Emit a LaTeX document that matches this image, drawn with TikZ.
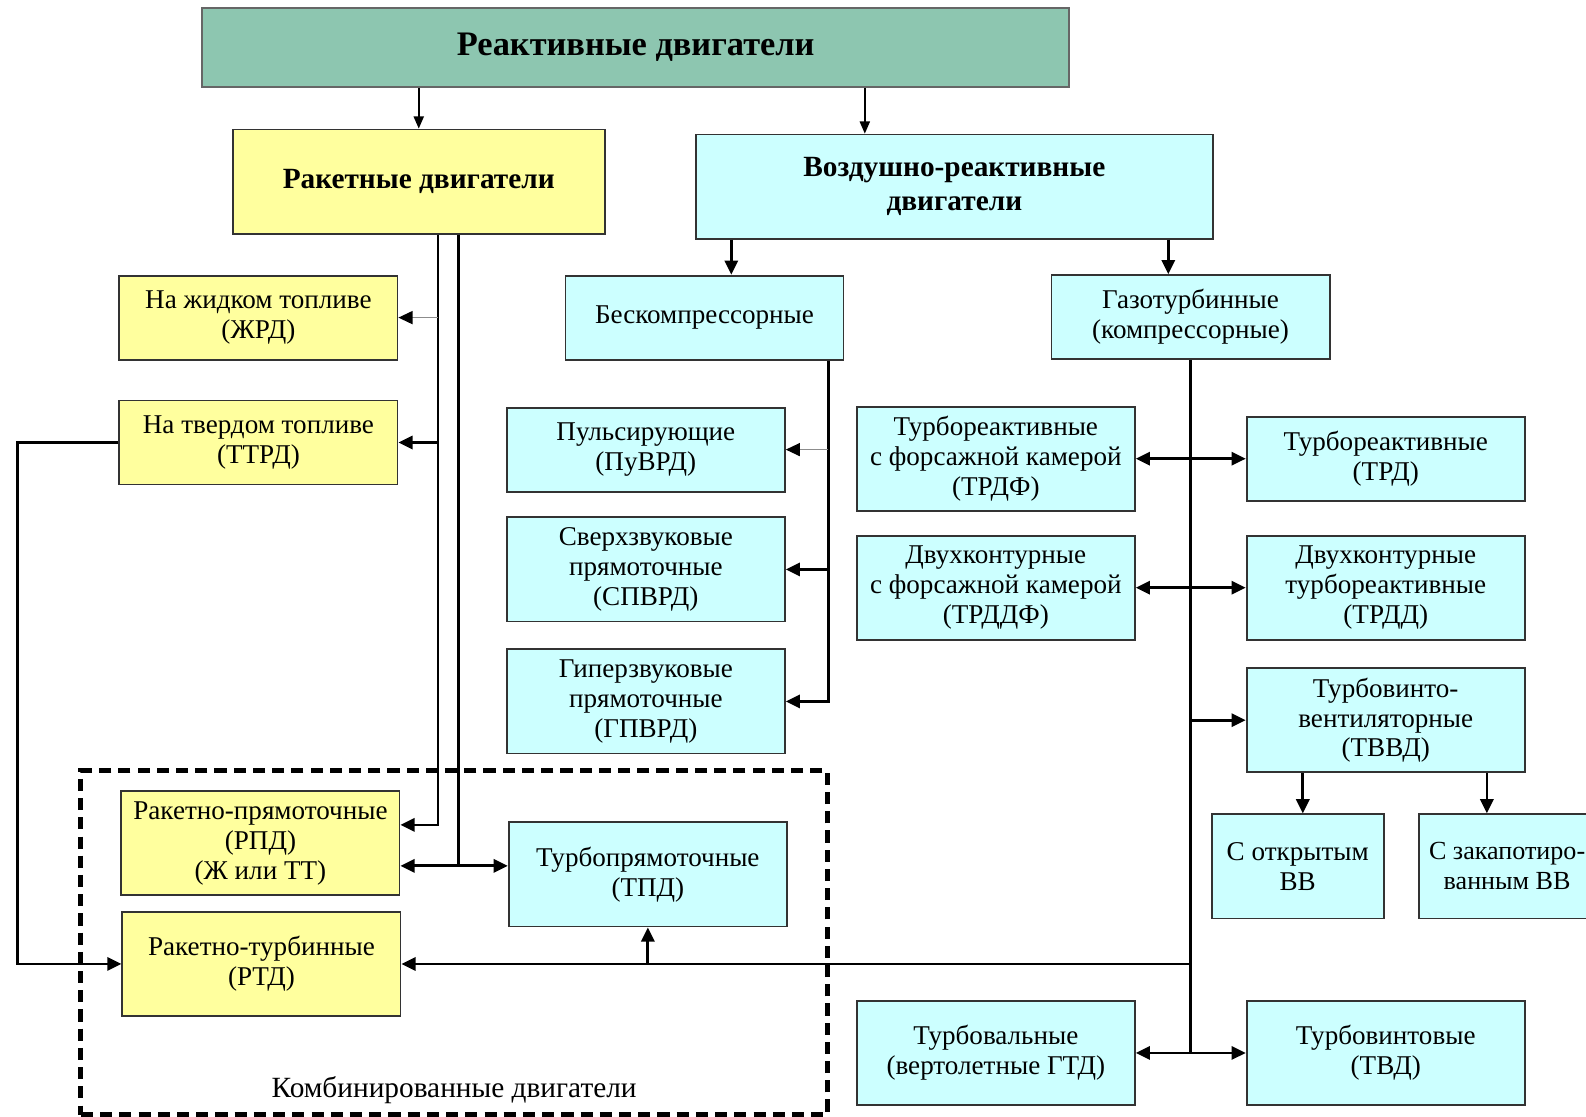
\documentclass[tikz,border=0pt]{standalone}
\usepackage{fontspec}
\setmainfont{Liberation Serif}
\usetikzlibrary{arrows.meta}
\definecolor{topteal}{RGB}{141,198,176}
\definecolor{rkyellow}{RGB}{255,255,158}
\definecolor{vrcyan}{RGB}{204,255,255}
\begin{document}
\begin{tikzpicture}[x=0.5pt, y=-0.5pt,
    >={Triangle[length=7pt,width=6.5pt]},
    box/.style={draw=black!80, line width=0.9pt, align=center, inner sep=1pt,
        font=\fontsize{13.4}{14.8}\selectfont},
    yelbox/.style={box, fill=rkyellow},
    cynbox/.style={box, fill=vrcyan},
    sz1/.style={minimum width=137.5pt, minimum height=41.5pt},
    sz2/.style={minimum width=137.5pt, minimum height=51.5pt},
    link/.style={line width=1.35pt},
    thin link/.style={line width=0.8pt, >={Triangle[length=6pt,width=5pt]}},
    faint link/.style={line width=0.6pt, draw=black!45,
        -{Triangle[length=7pt,width=6.5pt,color=black]}},
    combo/.style={draw, line width=2.5pt, dash pattern=on 6pt off 3.5pt,
        minimum width=369pt, minimum height=170pt, inner sep=0pt}]
    \useasboundingbox (0,0) rectangle (1568,1104);
    \coordinate (vx) at (855,0);
    \coordinate (bx) at (723,0);
    \coordinate (gx) at (1155,0);
    \coordinate (r1) at (433,0);
    \coordinate (r2) at (453,856);
    \coordinate (lx) at (17,0);
    \coordinate (bk) at (819,0);
    \coordinate (ox) at (1288,0);
    \coordinate (cx) at (1470,0);

    \node[combo] (combo) at (449,932) {};
    \node[font=\fontsize{14.5}{16}\selectfont, anchor=base] (combtxt)
        at ([yshift=9.5pt]combo.south) {Комбинированные двигатели};

    \node[box, fill=topteal, draw=black!60, minimum width=428.5pt, minimum height=39pt,
        font=\bfseries\fontsize{17}{20}\selectfont] (react) at (628.5,47) {Реактивные двигатели};
    \node[yelbox, minimum width=184pt, minimum height=51.5pt,
        font=\bfseries\fontsize{14.5}{16.5}\selectfont] (rocket) at (414,179.5) {Ракетные двигатели};
    \node[cynbox, minimum width=255.5pt, minimum height=51.5pt,
        font=\bfseries\fontsize{14.5}{16.5}\selectfont] (vrd) at (943.5,184.5) {Воздушно-реактивные\\двигатели};

    \node[cynbox, sz1] (beskomp) at (696.5,314) {Бескомпрессорные};
    \node[cynbox, sz1] (gasturb) at (1177,313.5) {Газотурбинные\\(компрессорные)};
    \node[yelbox, sz1] (zhrd) at (255.5,314) {На жидком топливе\\(ЖРД)};
    \node[yelbox, sz1] (ttrd) at (255.5,437.5) {На твердом топливе\\(ТТРД)};
    \node[cynbox, sz1] (puvrd) at (638.5,444.5) {Пульсирующие\\(ПуВРД)};
    \node[cynbox, sz2] (spvrd) at (638.5,563) {Сверхзвуковые\\прямоточные\\(СПВРД)};
    \node[cynbox, sz2] (gpvrd) at (638.5,693.5) {Гиперзвуковые\\прямоточные\\(ГПВРД)};
    \node[cynbox, sz2] (trdf) at (984.5,453.5) {Турбореактивные\\с форсажной камерой\\(ТРДФ)};
    \node[cynbox, sz2] (trddf) at (984.5,581) {Двухконтурные\\с форсажной камерой\\(ТРДДФ)};
    \node[cynbox, sz1] (trd) at (1370,453.5) {Турбореактивные\\(ТРД)};
    \node[cynbox, sz2] (trdd) at (1370,581) {Двухконтурные\\турбореактивные\\(ТРДД)};
    \node[cynbox, sz2] (tvvd) at (1370,712) {Турбовинто-\\вентиляторные\\(ТВВД)};
    \node[cynbox, minimum width=85pt, minimum height=51.5pt] (openvv) at (1283,856.5) {С открытым\\ВВ};
    \node[cynbox, minimum width=87pt, minimum height=51.5pt,
        font=\fontsize{12.9}{14.8}\selectfont] (closedvv) at (1490,856.5) {С закапотиро-\\ванным ВВ};
    \node[cynbox, sz2] (turboval) at (984.5,1041) {Турбовальные\\(вертолетные ГТД)};
    \node[cynbox, sz2] (tvd) at (1370,1041) {Турбовинтовые\\(ТВД)};
    \node[yelbox, sz2] (rpd) at (257.5,833.5) {Ракетно-прямоточные\\(РПД)\\(Ж или ТТ)};
    \node[yelbox, sz2] (rtd) at (258.5,953) {Ракетно-турбинные\\(РТД)};
    \node[cynbox, sz2] (tpd) at (640.5,864.5) {Турбопрямоточные\\(ТПД)};

    \draw[thin link, ->] (react.south -| rocket.north) -- (rocket.north);
    \draw[thin link, ->] (react.south -| vx) -- (vrd.north -| vx);
    \draw[link, ->] (vrd.south -| bx) -- (beskomp.north -| bx);
    \draw[link, ->] (vrd.south -| gx) -- (gasturb.north -| gx);

    \draw[link, ->] (rocket.south -| r1) |- ([yshift=9pt]rpd.east);
    \draw[faint link] (zhrd.east -| r1) -- (zhrd.east);
    \draw[link, ->] (ttrd.east -| r1) -- (ttrd.east);
    \draw[link] (rocket.south -| r2) -- (r2);
    \draw[link, <->] (rpd.east |- r2) -- (tpd.west |- r2);
    \draw[link, ->] (ttrd.west) -- (ttrd.west -| lx) |- (rtd.west);

    \draw[link, ->] (beskomp.south -| bk) |- (gpvrd.east);
    \draw[faint link] (puvrd.east -| bk) -- (puvrd.east);
    \draw[link, ->] (spvrd.east -| bk) -- (spvrd.east);

    \draw[link] (gasturb.south) -- (gasturb.south |- turboval.east);
    \draw[link, <->] (trdf.east) -- (trd.west);
    \draw[link, <->] (trddf.east) -- (trdd.west);
    \draw[link, ->] (gasturb.south |- tvvd.west) -- (tvvd.west);
    \draw[link, <->] (turboval.east) -- (tvd.west);
    \draw[link, ->] (gasturb.south |- rtd.east) -- (rtd.east);
    \draw[link, ->] (tpd.south |- rtd.east) -- (tpd.south);
    \draw[link, ->] (tvvd.south -| ox) -- (openvv.north -| ox);
    \draw[link, ->] (tvvd.south -| cx) -- (closedvv.north -| cx);
\end{tikzpicture}
\end{document}
